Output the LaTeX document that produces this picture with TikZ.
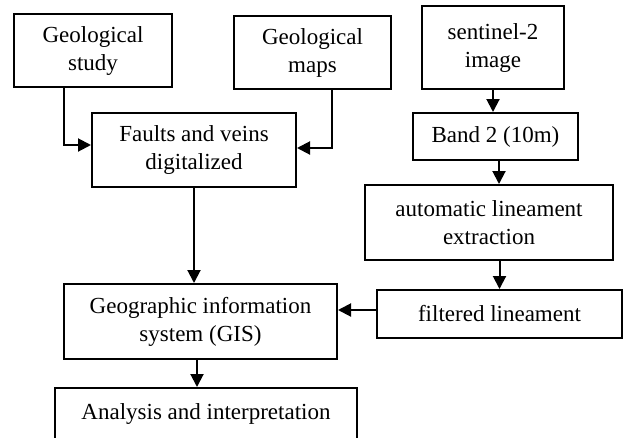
\documentclass[tikz,border=0pt]{standalone}
\usepackage{fontspec}
\setmainfont{Liberation Serif}
\usetikzlibrary{arrows.meta}

\begin{document}
\begin{tikzpicture}[x=1pt, y=-1pt, line width=2pt,
  every node/.style={draw, rectangle, align=center, font=\fontsize{23}{28}\selectfont, inner sep=0pt},
  arr/.style={-{Triangle[length=13pt,width=13pt]}}]
  \useasboundingbox (0,0) rectangle (623,437);
  % left branch
  \node[minimum width=158pt, minimum height=73pt] (study) at (93, 50.5) {Geological\\study};
  \node[minimum width=157pt, minimum height=73pt] (maps) at (312.5, 52.5) {Geological\\maps};
  \node[minimum width=204pt, minimum height=74pt] (faults) at (194, 150) {Faults and veins\\digitalized};
  \node[minimum width=273pt, minimum height=75pt] (gis) at (200.5, 321.5) {Geographic information\\system (GIS)};
  \node[minimum width=302pt, minimum height=51pt] (analysis) at (206, 413.5) {Analysis and interpretation};
  % right branch
  \node[minimum width=142pt, minimum height=83pt] (sentinel) at (493, 47.5) {sentinel-2\\image};
  \node[minimum width=165pt, minimum height=47pt] (band) at (495.5, 136.5) {Band 2 (10m)};
  \node[minimum width=248pt, minimum height=75pt] (auto) at (489, 222.5) {automatic lineament\\extraction};
  \node[minimum width=245pt, minimum height=48pt] (filtered) at (499.5, 314) {filtered lineament};

  \draw[arr] ([xshift=-29pt]study.south) |- ([yshift=5pt]faults.west);
  \draw[arr] ([xshift=19.5pt]maps.south) |- ([yshift=2pt]faults.east);
  \draw[arr] (faults.south) -- (faults.south |- gis.north);
  \draw[arr] ([xshift=-3.5pt]gis.south) -- ([xshift=-3.5pt]gis.south |- analysis.north);
  \draw[arr] (sentinel.south) -- (sentinel.south |- band.north);
  \draw[arr] ([xshift=3.5pt]band.south) -- ([xshift=3.5pt]band.south |- auto.north);
  \draw[arr] (filtered.north |- auto.south) -- (filtered.north);
  \draw[arr] ([yshift=4pt]filtered.west) -- ([yshift=4pt]filtered.west -| gis.east);
\end{tikzpicture}
\end{document}
